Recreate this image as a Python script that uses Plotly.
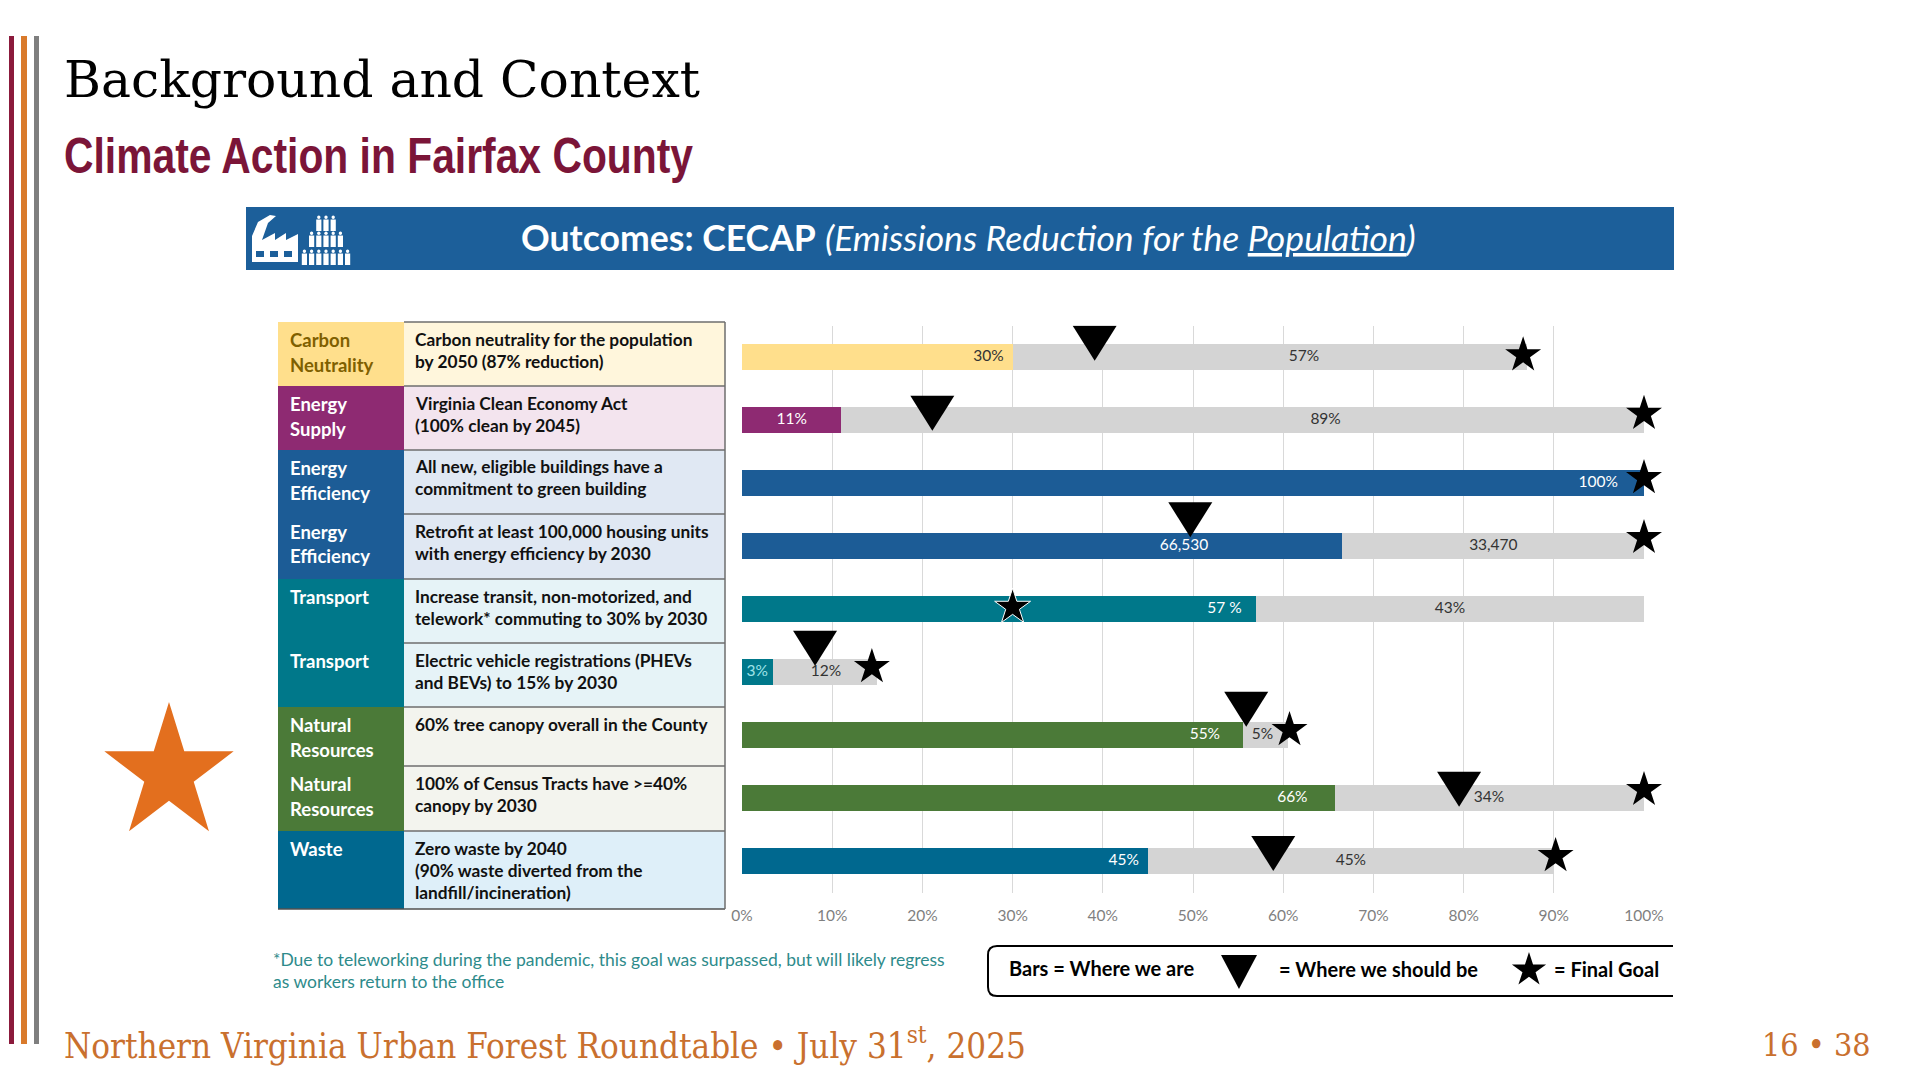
import math
import plotly.graph_objects as go

# ---------- data ----------
row_index = [0, 1, 2, 3, 4, 5, 6, 7, 8]
current_values = [30, 11, 100, 66.53, 57, 3.4, 55.5, 65.7, 45]
remaining_values = [57, 89, 0, 33.47, 43, 11.6, 5, 34.3, 45]
current_labels = ["30%", "11%", "100%", "66,530", "57 %", "3%", "55%", "66%", "45%"]
remaining_labels = ["57%", "89%", None, "33,470", "43%", "12%", "5%", "34%", "45%"]
target_values = [39.1, 21.1, None, 49.7, None, 8.1, 55.9, 79.5, 58.9]
goal_values = [86.6, 100, 100, 100, 30, 14.4, 60.7, 100, 90.2]
x_ticks = [0, 10, 20, 30, 40, 50, 60, 70, 80, 90, 100]
x_tick_labels = ["0%", "10%", "20%", "30%", "40%", "50%", "60%", "70%", "80%", "90%", "100%"]
table_labels = [["Carbon", "Neutrality"], ["Energy", "Supply"], ["Energy", "Efficiency"],
                ["Energy", "Efficiency"], ["Transport"], ["Transport"],
                ["Natural", "Resources"], ["Natural", "Resources"], ["Waste"]]
table_text = [["Carbon neutrality for the population", "by 2050 (87% reduction)"],
              ["Virginia Clean Economy Act", "(100% clean by 2045)"],
              ["All new, eligible buildings have a", "commitment to green building"],
              ["Retrofit at least 100,000 housing units", "with energy efficiency by 2030"],
              ["Increase transit, non-motorized, and", "telework* commuting to 30% by 2030"],
              ["Electric vehicle registrations (PHEVs", "and BEVs) to 15% by 2030"],
              ["60% tree canopy overall in the County"],
              ["100% of Census Tracts have >=40%", "canopy by 2030"],
              ["Zero waste by 2040", "(90% waste diverted from the", "landfill/incineration)"]]

# ---------- styling and placement ----------
W, H = 1920, 1080
SANS = "Lato"
SLAB = "DejaVu Serif Condensed"
row_colors = ["#FFDF8C", "#8E2A72", "#1C5C96", "#1C5C96", "#00788A", "#00788A", "#4B7A38", "#4B7A38", "#00688F"]
desc_colors = ["#FFF6DC", "#F3E4EE", "#E0E8F3", "#E0E8F3", "#E6F3F7", "#E6F3F7", "#F3F4EE", "#F3F4EE", "#DEEFF9"]
label_colors = ["#7F6000"] + ["#FFFFFF"] * 8
current_text_colors = ["#333333", "#FFFFFF", "#FFFFFF", "#FFFFFF", "#FFFFFF", "#9FE3E8", "#FFFFFF", "#FFFFFF", "#FFFFFF"]
table_edges = [322, 386, 450, 514, 579, 643, 707, 766, 831, 909]
current_label_at = [29, 5.5, 97.1, 49, 55.4, 1.7, 53, 62.7, 44]
remaining_label_at = [62.3, 64.7, None, 83.3, 78.5, 9.3, 57.7, 82.8, 67.5]
target_row_shift = [-0.21, -0.10, 0, -0.41, 0, -0.37, -0.40, -0.13, -0.11]
goal_row_shift = [-0.03, -0.10, -0.08, -0.13, -0.03, -0.08, -0.08, -0.13, -0.08]


def px(x):
    return x / W


def py(y):
    return 1 - y / H


def rect(x0, y0, x1, y1, fill, line=None, width=0):
    return dict(type="rect", xref="paper", yref="paper", x0=px(x0), x1=px(x1), y0=py(y0), y1=py(y1),
                fillcolor=fill, line=dict(color=line or fill, width=width), layer="above")


def poly(points, fill):
    d = "M" + " L".join(f"{px(a):.5f},{py(b):.5f}" for a, b in points) + " Z"
    return dict(type="path", xref="paper", yref="paper", path=d, fillcolor=fill, line=dict(width=0), layer="above")


def star(cx, cy, r, fill, ys=1.0):
    pts = []
    for i in range(10):
        rad = r if i % 2 == 0 else r * 0.382
        a = -math.pi / 2 + i * math.pi / 5
        pts.append((cx + rad * math.cos(a), cy + ys * rad * math.sin(a)))
    return poly(pts, fill)


def note(x, y, text, size, color, family=SANS, anchor="left", bold=False):
    return dict(xref="paper", yref="paper", x=px(x), y=py(y), xanchor=anchor, yanchor="middle", showarrow=False,
                text=f"<b>{text}</b>" if bold else text, font=dict(family=family, size=size, color=color),
                align="left")


fig = go.Figure()
fig.add_bar(y=row_index, x=current_values, orientation="h", width=0.4, marker=dict(color=row_colors, line_width=0))
fig.add_bar(y=row_index, x=remaining_values, orientation="h", width=0.4, marker=dict(color="#D4D4D4", line_width=0))
fig.add_scatter(x=current_label_at, y=row_index, mode="text", text=current_labels, cliponaxis=False,
                textposition=["middle left", "middle center", "middle left", "middle center", "middle left",
                              "middle center", "middle left", "middle left", "middle left"],
                textfont=dict(family=SANS, size=15.5, color=current_text_colors))
shown = [i for i in row_index if remaining_labels[i] is not None]
fig.add_scatter(x=[remaining_label_at[i] for i in shown], y=[row_index[i] for i in shown], mode="text",
                text=[remaining_labels[i] for i in shown], cliponaxis=False,
                textposition="middle center", textfont=dict(family=SANS, size=15.5, color="#333333"))
fig.add_scatter(x=goal_values, y=[r + s for r, s in zip(row_index, goal_row_shift)], mode="markers", cliponaxis=False,
                marker=dict(symbol="star", size=27, color="#000000",
                            line=dict(width=[0, 0, 0, 0, 1, 0, 0, 0, 0], color="#FFFFFF")))

shapes = []
# target triangles: anchored to the axes, sized in pixels
for r, v, s in zip(row_index, target_values, target_row_shift):
    if v is not None:
        shapes.append(dict(type="path", xref="x", yref="y", xsizemode="pixel", ysizemode="pixel",
                           xanchor=v, yanchor=r + s, path="M -22 18 L 22 18 L 0 -17 Z",
                           fillcolor="#000000", line=dict(width=0), layer="above"))

# slide furniture
shapes += [rect(9, 36, 14, 1044, "#8B1A3C"), rect(21, 36, 27, 1044, "#D97A2B"), rect(34, 36, 39, 1044, "#7F7F7F")]
shapes.append(rect(246, 207, 1674, 270, "#1C5F9A"))
shapes.append(star(169, 773.4, 68, "#E36F1E", ys=1.05))

# banner icon: factory
shapes.append(poly([(252, 262), (252, 236), (258, 222), (270, 215), (276, 216), (268, 223), (262, 240),
                    (275, 233), (275, 240), (286, 233), (286, 240), (298, 234), (298, 262)], "#FFFFFF"))
for wx in (256, 270, 284):
    shapes.append(rect(wx, 251, wx + 8, 257, "#1C5F9A"))
# banner icon: people
for cy, n in ((224, 3), (240, 5), (258, 7)):
    for i in range(n):
        cx = 326 - (n - 1) * 3.6 + i * 7.2
        shapes.append(dict(type="circle", xref="paper", yref="paper", x0=px(cx - 1.7), x1=px(cx + 1.7),
                           y0=py(cy - 5), y1=py(cy - 8.4), fillcolor="#FFFFFF", line_width=0, layer="above"))
        shapes.append(rect(cx - 2.6, cy - 4.5, cx + 2.6, cy + 7, "#FFFFFF"))

annotations = []
# table
for i, r in enumerate(row_index):
    top, bot = table_edges[i], table_edges[i + 1]
    shapes.append(rect(278, top, 404, bot, row_colors[i]))
    shapes.append(rect(404, top, 725, bot, desc_colors[i]))
    for j, line in enumerate(table_labels[i]):
        annotations.append(note(288, top + 18 + j * 24.5, line, 18.5, label_colors[i], bold=True))
    for j, line in enumerate(table_text[i]):
        annotations.append(note(413, top + 17 + j * 22, line, 17.3, "#111111", bold=True))
for e in table_edges[1:-1]:
    shapes.append(dict(type="line", xref="paper", yref="paper", x0=px(404), x1=px(725), y0=py(e), y1=py(e),
                       line=dict(color="#6E6E6E", width=1.5), layer="above"))
shapes.append(dict(type="line", xref="paper", yref="paper", x0=px(404), x1=px(725), y0=py(322), y1=py(322),
                   line=dict(color="#6E6E6E", width=1.5), layer="above"))
shapes.append(dict(type="line", xref="paper", yref="paper", x0=px(278), x1=px(725), y0=py(909), y1=py(909),
                   line=dict(color="#505050", width=1.5), layer="above"))
shapes.append(dict(type="line", xref="paper", yref="paper", x0=px(725), x1=px(725), y0=py(322), y1=py(909),
                   line=dict(color="#6E6E6E", width=1.5), layer="above"))

# legend box, open on the right
box = (f"M{px(1673)},{py(946)} L{px(997)},{py(946)} Q{px(988)},{py(946)} {px(988)},{py(955)} "
       f"L{px(988)},{py(987)} Q{px(988)},{py(996)} {px(997)},{py(996)} L{px(1673)},{py(996)}")
shapes.append(dict(type="path", xref="paper", yref="paper", path=box, line=dict(color="#000000", width=2), layer="above"))
shapes.append(poly([(1221, 955), (1257, 955), (1239, 989)], "#000000"))
shapes.append(star(1529, 970, 18, "#000000"))
annotations += [
    note(1007, 968, "Bars = Where we are", 20, "#000000", bold=True),
    note(1277, 969, "= Where we should be", 20, "#000000", bold=True),
    note(1552, 969, "= Final Goal", 20, "#000000", bold=True),
    note(271, 959, "*Due to teleworking during the pandemic, this goal was surpassed, but will likely regress", 17.5, "#2E8B8B"),
    note(271, 981, "as workers return to the office", 17.5, "#2E8B8B"),
    note(62, 80, "Background and Context", 50, "#000000", family=SLAB),
    note(62, 156, "Climate Action in Fairfax County", 50, "#7B1538", family="Liberation Sans", bold=True),
    note(969, 238, "<b>Outcomes: CECAP</b> <i>(Emissions Reduction for the <u>Population</u>)</i>", 35.6, "#FFFFFF",
         anchor="center"),
    note(62, 1043, "Northern Virginia Urban Forest Roundtable • July 31<sup>st</sup>, 2025", 34.7, "#C9702E", family=SLAB),
    note(1873, 1045, "16 • 38", 32, "#C9702E", family=SLAB, anchor="right"),
]

fig.update_layout(
    width=W, height=H, barmode="stack", showlegend=False, paper_bgcolor="#FFFFFF", plot_bgcolor="#FFFFFF",
    margin=dict(l=0, r=0, t=0, b=0, autoexpand=False), shapes=shapes, annotations=annotations,
    xaxis=dict(domain=[px(742), px(1644)], range=[0, 100], tickvals=x_ticks, ticktext=x_tick_labels,
               showgrid=True, gridcolor="#D9D9D9", gridwidth=1, zeroline=False, showline=False, ticks="",
               ticklabelstandoff=12, tickfont=dict(family=SANS, size=15.5, color="#7F7F7F")),
    yaxis=dict(domain=[py(892.5), py(325.5)], range=[8.5, -0.5], visible=False),
)
fit_text = """
document.body.style.margin='0';document.body.style.overflow='hidden';
document.querySelectorAll('.annotation-text').forEach(function(t){
  var s=t.textContent;
  if(s.indexOf('Climate Action')===0){t.setAttribute('textLength','629');t.setAttribute('lengthAdjust','spacingAndGlyphs');}
  if(s.indexOf('Background')===0){t.setAttribute('textLength','636');t.setAttribute('lengthAdjust','spacingAndGlyphs');}
});
"""
fig.write_html("out.html", config={"displayModeBar": False}, post_script=fit_text)
